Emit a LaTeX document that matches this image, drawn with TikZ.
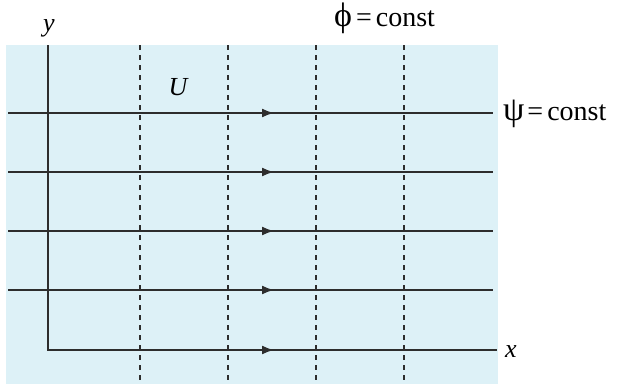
\documentclass[tikz,border=0pt]{standalone}
\usepackage{fontspec}
\setmainfont{Liberation Serif}
\usetikzlibrary{arrows.meta}
\definecolor{flowbg}{RGB}{221,241,247}
\definecolor{ink}{RGB}{45,45,45}
\tikzset{
  streamline/.style={draw=ink, line width=1.8pt},
  potline/.style={draw=ink, line width=1.3pt, dash pattern=on 5pt off 5pt},
  axisline/.style={draw=ink, line width=1.8pt},
  flowarrow/.style={draw=ink, line width=1.8pt, -{Latex[length=12pt,width=9pt]}},
  lbl/.style={inner sep=0pt, font=\fontsize{28}{32}\selectfont},
  vlbl/.style={inner sep=0pt, font=\fontsize{26}{30}\selectfont\itshape},
}
\newcommand{\bigsym}[1]{{\fontsize{34}{36}\selectfont #1}}
\begin{document}
\begin{tikzpicture}[x=1pt,y=-1pt]
\useasboundingbox (0,0) rectangle (618,384);
\fill[flowbg] (6,45) rectangle (498,384);
% potential lines
\foreach \px [count=\i] in {140,228,316,404}{
  \coordinate (pt\i) at (\px,45);
  \coordinate (pb\i) at (\px,384);
  \draw[potline] (pt\i) -- (pb\i);
}
% streamlines
\foreach \sy [count=\i] in {113,172,231,290}{
  \coordinate (sl\i) at (8,\sy);
  \coordinate (sr\i) at (493,\sy);
  \coordinate (sm\i) at (274,\sy);
  \draw[streamline] (sl\i) -- (sr\i);
  \draw[flowarrow] (sl\i) -- (sm\i);
}
% axes
\coordinate (ytop) at (48,45);
\coordinate (origin) at (48,350);
\coordinate (xend) at (497,350);
\coordinate (xm) at (274,350);
\draw[axisline] (ytop) -- (origin) -- (xend);
\draw[flowarrow] (origin) -- (xm);
% labels
\node[vlbl] (ylab) at (49,28) {y};
\node[vlbl, anchor=west] (xlab) at (505,352) {x};
\node[vlbl] (ulab) at (178,87) {U};
\node[lbl, anchor=base west] (philab) at (334,26) {\bigsym{ϕ}\hspace{4pt}=\hspace{4pt}const};
\node[lbl, anchor=base west] (psilab) at (503,120) {\bigsym{ψ}\hspace{3pt}=\hspace{4pt}const};
\end{tikzpicture}
\end{document}
